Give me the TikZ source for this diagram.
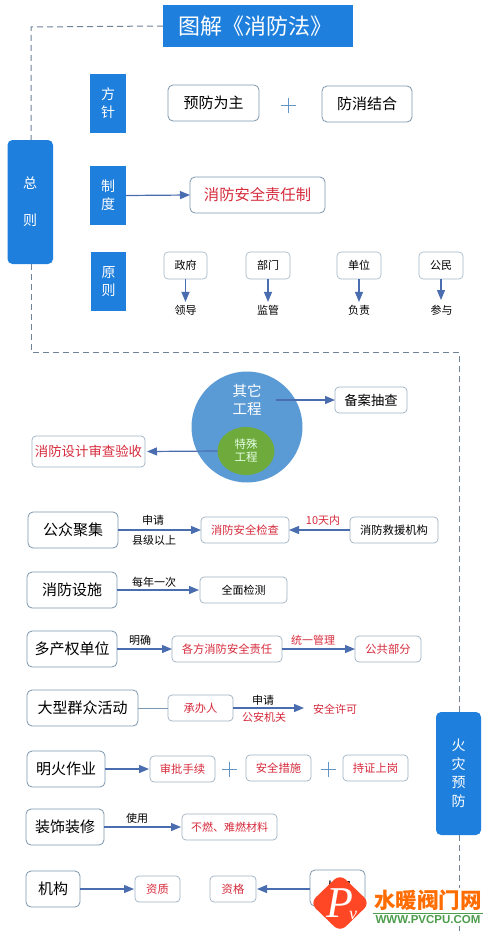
\documentclass[tikz,border=0pt]{standalone}
\usepackage{fontspec}
\setmainfont{Noto Sans CJK SC}
\newfontfamily\logoserif{Liberation Serif}
\newfontfamily\logosans{Liberation Sans}
\usetikzlibrary{arrows.meta,calc,shapes.geometric}
\definecolor{mainblue}{HTML}{1F7FDC}
\definecolor{edgeblue}{HTML}{7C97AE}
\definecolor{arrowblue}{HTML}{4A6DB0}
\definecolor{redtxt}{HTML}{D62B3C}
\definecolor{circblue}{HTML}{5B9BD5}
\definecolor{circgreen}{HTML}{6FAA3C}
\definecolor{dashcol}{HTML}{6F8296}
\newcommand{\fsz}[1]{\fontsize{#1}{#1}\selectfont}
\newcommand{\bx}[7]{%
  \pgfmathsetmacro\bxcx{(#3+#5)/2}\pgfmathsetmacro\bxcy{(#4+#6)/2}%
  \pgfmathsetmacro\bxw{#5-#3}\pgfmathsetmacro\bxh{#6-#4}%
  \node[#2,minimum width=\bxw pt,minimum height=\bxh pt] (#1) at (\bxcx,\bxcy) {#7};}
\newcommand{\plusmark}[2]{%
  \draw[plusline] (#1-7.5,#2) -- (#1+7.5,#2);
  \draw[plusline] (#1,#2-7.5) -- (#1,#2+7.5);}
\tikzset{
  base/.style={inner sep=0pt,outer sep=0pt,align=center},
  solidbox/.style={base,fill=mainblue,text=white,font=\fsz{14},align=center},
  sidebox/.style={solidbox,rounded corners=5pt},
  bigbox/.style={base,draw=edgeblue,line width=0.8pt,rounded corners=5pt,fill=white,font=\fsz{15}},
  midbox/.style={base,draw=edgeblue!75,line width=0.7pt,rounded corners=4pt,fill=white,font=\fsz{11.3}},
  smallbox/.style={base,draw=edgeblue!70,line width=0.6pt,rounded corners=4pt,fill=white,font=\fsz{11}},
  redbox/.style={midbox,text=redtxt,font=\fsz{11.3}},
  lbl/.style={base,font=\fsz{11}},
  redlbl/.style={lbl,text=redtxt},
  plusline/.style={draw=circblue!80!gray,line width=0.7pt},
  arr/.style={draw=arrowblue,line width=1.2pt,-{Triangle[length=10pt,width=8pt]}},
  plainline/.style={draw=edgeblue,line width=0.8pt},
  dashline/.style={draw=dashcol,line width=1pt,dash pattern=on 6pt off 4pt},
}
\begin{document}
\begin{tikzpicture}[x=1pt,y=-1pt]
\useasboundingbox (0,0) rectangle (488,934);
\fill[white] (0,0) rectangle (488,934);
% dashed frame
\coordinate (tl) at (31,27);
\coordinate (ml) at (31,352);
\coordinate (mr) at (459,352);
\coordinate (bot) at (459,934);
% main boxes
\bx{title}{base,fill=mainblue,text=white,font=\fsz{22},text width=160pt,align=left}{163}{5}{353}{47}{图解《消防法》}
\bx{zong}{sidebox}{7.5}{140}{53}{264}{总\\[23pt]则}
\bx{huo}{sidebox,font=\fsz{14}}{436}{712}{481}{835}{火\\[4.5pt]灾\\[4.5pt]预\\[4.5pt]防}
\draw[dashline] (title.west) -- (tl) -- (zong.north -| tl);
\draw[dashline] (zong.south -| ml) -- (ml) -- (mr) -- (huo.north -| mr);
\draw[dashline] (huo.south -| mr) -- (bot);
% section one
\bx{fz}{solidbox}{90}{74}{126}{133}{方\\[4pt]针}
\bx{zd}{solidbox}{90}{166}{126}{225}{制\\[4pt]度}
\bx{yz}{solidbox}{91}{252}{126}{311}{原\\[4pt]则}
\bx{yf}{bigbox}{168}{85}{259}{121}{预防为主}
\plusmark{288.5}{105}
\bx{fx}{bigbox}{322}{86}{412}{122}{防消结合}
\bx{zr}{bigbox,font=\fsz{15.3},text=redtxt}{190}{177}{325}{213}{消防安全责任制}
\draw[arr] (zd.east) -- (zr.west);
\bx{zf}{smallbox}{164}{252}{207}{279}{政府}
\bx{bm}{smallbox}{246}{252}{290}{279}{部门}
\bx{dw}{smallbox}{337}{252}{381}{279}{单位}
\bx{gm}{smallbox}{419}{252}{463}{279}{公民}
\node[lbl] (ld) at (185.5,310) {领导};
\node[lbl] (jg) at (268,310) {监管};
\node[lbl] (fzr) at (359,310) {负责};
\node[lbl] (cy) at (441.5,310) {参与};
\draw[arr] (zf.south) -- ($(ld.north)+(0,-3)$);
\draw[arr] (bm.south) -- ($(jg.north)+(0,-3)$);
\draw[arr] (dw.south) -- ($(fzr.north)+(0,-3)$);
\draw[arr] (gm.south) -- ($(gm.south)+(0,21)$);
% circle
\node[base,circle,fill=circblue,minimum size=111pt] (qc) at (247,427) {};
\node[base,text=white,font=\fsz{14.5}] (qt) at (247,400) {其它\\[3pt]工程};
\node[base,ellipse,fill=circgreen,minimum width=57pt,minimum height=48pt] (ts) at (246,451) {};
\node[base,text=white!90!green,font=\fsz{11.5}] (tst) at (246,451) {特殊\\[1.5pt]工程};
\bx{ba}{midbox,font=\fsz{13.3}}{335}{387}{407}{413}{备案抽查}
\bx{sj}{midbox,font=\fsz{13.4},text=redtxt}{32}{436}{145}{467}{消防设计审查验收}
\draw[arr] ($(qt.east)+(14,0)$) -- (ba.west);
\draw[arr] (ts.west) -- ($(sj.east)+(2,0)$);
% rows
\bx{gz}{bigbox}{28}{512}{118}{548}{公众聚集}
\bx{aq}{redbox}{201}{517}{289}{543}{消防安全检查}
\bx{jy}{midbox}{350}{517}{438}{543}{消防救援机构}
\draw[arr] (gz.east) -- (aq.west);
\draw[arr] (jy.west) -- (aq.east);
\node[lbl] (t1) at (153,520) {申请};
\node[lbl] (t2) at (154,540) {县级以上};
\node[redlbl] (t3) at (323,520) {10天内};

\bx{ss}{bigbox}{27}{572}{117}{608}{消防设施}
\bx{qm}{midbox,font=\fsz{11}}{200}{577}{287}{603}{全面检测}
\draw[arr] (ss.east) -- ($(qm.west)+(-1,0)$);
\node[lbl] (t4) at (154,582) {每年一次};

\bx{dc}{bigbox}{27}{631}{117}{667}{多产权单位}
\bx{gf}{redbox}{172}{636}{282}{662}{各方消防安全责任}
\bx{gg}{redbox}{355}{636}{421}{662}{公共部分}
\draw[arr] (dc.east) -- (gf.west);
\draw[arr] (gf.east) -- (gg.west);
\node[lbl] (t5) at (140,640) {明确};
\node[redlbl] (t6) at (313,640) {统一管理};

\bx{dx}{bigbox}{27}{690}{138}{726}{大型群众活动}
\bx{cb}{redbox}{168}{695}{233}{721}{承办人}
\node[redlbl] (xk) at (335,709) {安全许可};
\draw[plainline] (dx.east) -- (cb.west);
\draw[arr] (cb.east) -- ($(cb.east)+(71,0)$);
\node[lbl] (t7) at (263,700) {申请};
\node[redlbl] (t8) at (264,717) {公安机关};

\bx{mh}{bigbox}{27}{751}{105}{787}{明火作业}
\bx{sp}{redbox}{150}{756}{215}{782}{审批手续}
\plusmark{229.5}{769}
\bx{cs}{redbox}{246}{755}{311}{781}{安全措施}
\plusmark{328}{769}
\bx{cz}{redbox}{343}{755}{408}{781}{持证上岗}
\draw[arr] (mh.east) -- ($(sp.west)+(-1,0)$);

\bx{zs}{bigbox}{26}{809}{104}{845}{装饰装修}
\bx{br}{redbox,font=\fsz{11}}{182}{814}{277}{840}{不燃、难燃材料}
\draw[arr] (zs.east) -- ($(br.west)+(-1,0)$);
\node[lbl] (t9) at (137,818) {使用};

\bx{jg2}{bigbox}{26}{871}{80}{907}{机构}
\bx{zz}{redbox}{135}{876}{180}{902}{资质}
\bx{zg}{redbox}{210}{876}{256}{902}{资格}
\bx{ry}{bigbox}{310}{870}{365}{906}{人员}
\draw[arr] (jg2.east) -- ($(zz.west)+(-1,0)$);
\draw[arr] ($(ry.west)+(0,1)$) -- ($(zg.east)+(1,0)$);
% watermark
\fill[fill=white] (372,888) rectangle (485,926);
\fill[fill=red!70!orange!85!white,rounded corners=8pt] (340,874) -- (370,903) -- (340,932) -- (310,903) -- cycle;
\node[base,text=white,font={\logoserif\itshape\fsz{44}}] (logop) at (340,903) {P};
\node[base,text=white,font={\logoserif\itshape\fsz{18}}] (logov) at (353,915) {v};
\node[base,text=orange!85!red,font={\bfseries\fsz{21.5}}] (logot) at (428,900) {水暖阀门网};
\draw[draw=green!45!black!70,line width=1pt] (373,913) -- (483,913);
\node[base,text=green!45!black!70,font={\logosans\bfseries\fsz{11.5}}] (logou) at (428,920) {WWW.PVCPU.COM};
\end{tikzpicture}
\end{document}
